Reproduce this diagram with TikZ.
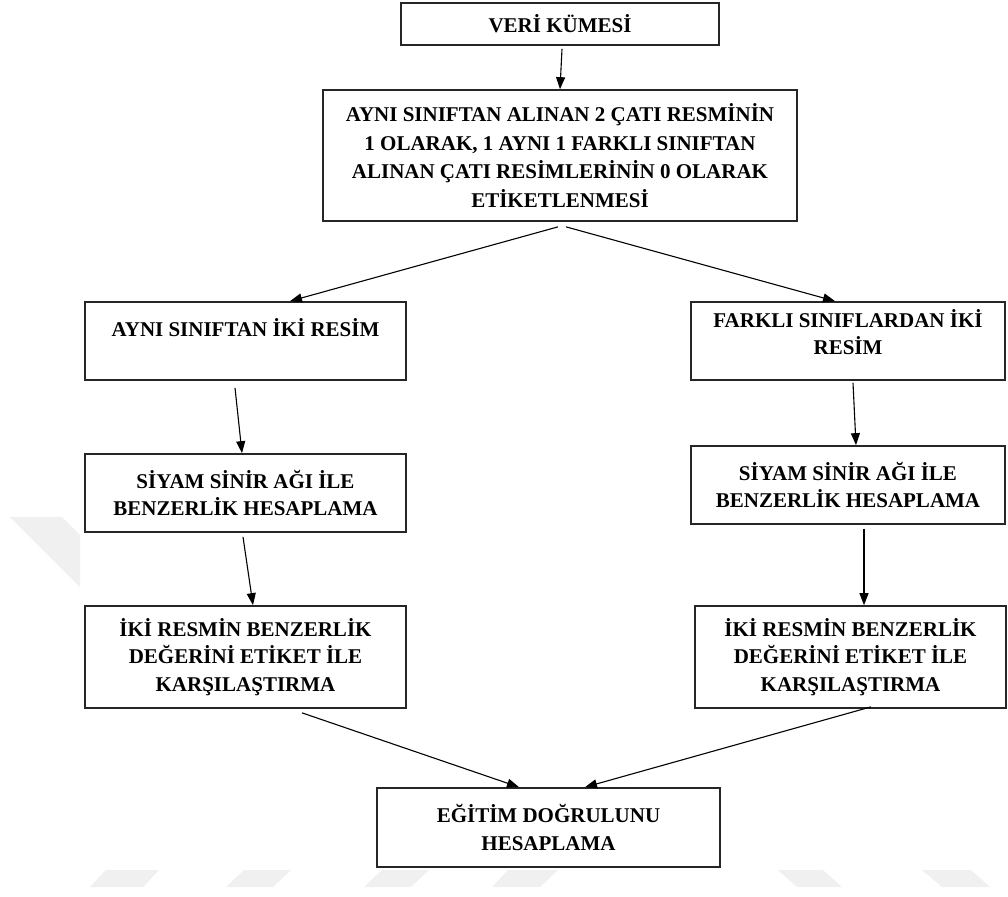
\documentclass[tikz,border=0pt]{standalone}
\usepackage{fontspec}
\setmainfont{Liberation Serif}
\usetikzlibrary{arrows.meta}
\begin{document}
\begin{tikzpicture}[x=1pt,y=-1pt,
  box/.style={draw=black!85, line width=1.7pt, fill=white, align=center, inner sep=0pt,
    font={\fontsize{21}{27.5}\selectfont\bfseries}},
  arr/.style={line width=1.1pt, -{Triangle[length=12pt,width=9pt]}},
  wm/.style={fill=black!6, draw=none}]
\useasboundingbox[fill=white] (0,0) rectangle (1008,896);
% watermark
\fill[wm] (10,517) -- (62,517) -- (80,535) -- (80,587) -- cycle;
\fill[wm] (106,870) -- (159,870) -- (143,887) -- (90,887) -- cycle;
\fill[wm] (244,870) -- (291,870) -- (273,887) -- (226,887) -- cycle;
\fill[wm] (382,870) -- (429,870) -- (411,887) -- (364,887) -- cycle;
\fill[wm] (508,870) -- (558,870) -- (540,887) -- (492,887) -- cycle;
\fill[wm] (778,870) -- (823,870) -- (842,887) -- (797,887) -- cycle;
\fill[wm] (922,870) -- (971,870) -- (990,887) -- (942,887) -- cycle;
% boxes
\node[box, minimum width=318pt, minimum height=42pt] (b1) at (560,24) {VERİ KÜMESİ};
\node[box, minimum width=474pt, minimum height=131pt,
  font={\fontsize{21}{28.5}\selectfont\bfseries}] (b2) at (560,155.5)
  {AYNI SINIFTAN ALINAN 2 ÇATI RESMİNİN\\1 OLARAK, 1 AYNI 1 FARKLI SINIFTAN\\ALINAN ÇATI RESİMLERİNİN 0 OLARAK\\ETİKETLENMESİ};
\node[box, minimum width=321pt, minimum height=78pt] (b3l) at (245.5,341) {AYNI SINIFTAN İKİ RESİM\\\mbox{}};
\node[box, minimum width=314pt, minimum height=78pt] (b3r) at (848,341) {FARKLI SINIFLARDAN İKİ\\RESİM\\[-9pt]\mbox{}};
\node[box, minimum width=321pt, minimum height=78pt] (b4l) at (245.5,493) {SİYAM SİNİR AĞI İLE\\BENZERLİK HESAPLAMA};
\node[box, minimum width=314pt, minimum height=78pt] (b4r) at (848,485) {SİYAM SİNİR AĞI İLE\\BENZERLİK HESAPLAMA};
\node[box, minimum width=321pt, minimum height=102pt] (b5l) at (245.5,657) {İKİ RESMİN BENZERLİK\\DEĞERİNİ ETİKET İLE\\KARŞILAŞTIRMA};
\node[box, minimum width=311pt, minimum height=102pt] (b5r) at (850.5,657) {İKİ RESMİN BENZERLİK\\DEĞERİNİ ETİKET İLE\\KARŞILAŞTIRMA};
\node[box, minimum width=343pt, minimum height=79pt] (b6) at (548.5,827.5) {EĞİTİM DOĞRULUNU\\HESAPLAMA};
% arrows
\draw[arr] ([shift={(2,3)}]b1.south) -- (b2.north);
\draw[arr] ([shift={(-2,5)}]b2.south) -- ([xshift=44.5pt]b3l.north);
\draw[arr] ([shift={(6,5)}]b2.south) -- ([xshift=-13pt]b3r.north);
\draw[arr] ([shift={(-10.5,7)}]b3l.south) -- ([xshift=-3.5pt]b4l.north);
\draw[arr] ([shift={(5,2)}]b3r.south) -- ([xshift=8pt]b4r.north);
\draw[arr] ([shift={(-2.5,4)}]b4l.south) -- ([xshift=7.5pt]b5l.north);
\draw[arr] ([shift={(16,4)}]b4r.south) -- ([xshift=13.5pt]b5r.north);
\draw[arr] ([shift={(56.5,4)}]b5l.south) -- ([xshift=-29.5pt]b6.north);
\draw[arr] ([shift={(20.5,-2)}]b5r.south) -- ([xshift=36.5pt]b6.north);
\end{tikzpicture}
\end{document}
